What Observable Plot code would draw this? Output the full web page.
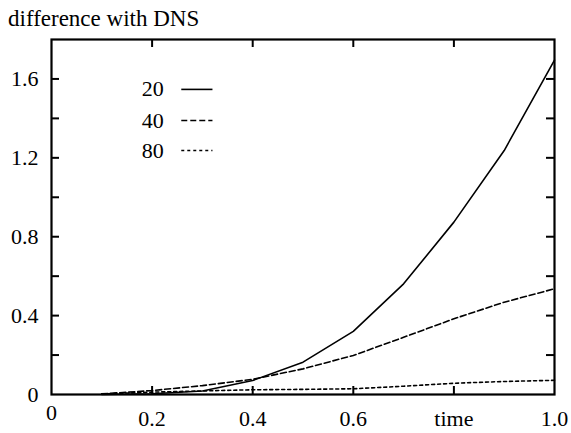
<!DOCTYPE html>
<html>
<head>
<meta charset="utf-8">
<script src="https://cdn.jsdelivr.net/npm/d3@7"></script>
<script src="https://cdn.jsdelivr.net/npm/@observablehq/plot@0.6"></script>
<style>
  html, body { margin: 0; padding: 0; background: #fff; }
  #wrap { position: relative; width: 571px; height: 433px; overflow: hidden; font-family: "Liberation Serif", "Times New Roman", Times, "DejaVu Serif", serif; }
  #title { position: absolute; left: 8px; top: 7px; font-size: 23px; line-height: 23px; color: #000; white-space: nowrap; }
  #chart { position: absolute; left: 0; top: 30px; }
  #chart text { font-family: "Liberation Serif", "Times New Roman", Times, "DejaVu Serif", serif; }
</style>
</head>
<body>
<div id="wrap">
  <div id="title">difference with DNS</div>
  <div id="chart"></div>
</div>
<script>
// ---- data ----
const times = [0.1, 0.2, 0.3, 0.4, 0.5, 0.6, 0.7, 0.8, 0.9, 1.0];
const series20 = [0.0, 0.004, 0.018, 0.071, 0.164, 0.32, 0.561, 0.874, 1.237, 1.695];
const series40 = [0.003, 0.02, 0.045, 0.077, 0.13, 0.198, 0.29, 0.384, 0.468, 0.536];
const series80 = [0.003, 0.012, 0.018, 0.024, 0.026, 0.029, 0.042, 0.057, 0.066, 0.072];
const seriesNames = ["20", "40", "80"];
const xTickLabels = [0, 0.2, 0.4, 0.6, 0.8, 1.0];
const yTickLabels = [0, 0.4, 0.8, 1.2, 1.6];
const xMinorTicks = [0.2, 0.4, 0.6, 0.8];
const yMinorTicks = [0.2, 0.4, 0.6, 0.8, 1.0, 1.2, 1.4, 1.6];

// ---- layout / style ----
const W = 571, H = 403;
const mTop = 9, mBottom = 39, mLeft = 51, mRight = 17;
const innerW = W - mLeft - mRight, innerH = H - mTop - mBottom;
const tickLen = 8;
const dashes = ["none", "6,3", "3,3"];
const seriesValues = [series20, series40, series80];

const rows = [];
seriesNames.forEach((name, k) => {
  times.forEach((t, i) => rows.push({series: name, time: t, value: seriesValues[k][i]}));
});

// legend layout (in chart units)
const legendTextX = 0.223, legendLineX1 = 0.258, legendLineX2 = 0.32;
const legendYs = [1.547, 1.389, 1.237];
const legend = seriesNames.map((name, k) => ({name, y: legendYs[k], dash: dashes[k]}));

const font = "Liberation Serif, Times New Roman, serif";
const fs = 22;

const marks = [];
seriesNames.forEach((name, k) => {
  marks.push(Plot.line(rows.filter(d => d.series === name), {
    x: "time", y: "value", stroke: "#000", strokeWidth: 1.6,
    strokeDasharray: dashes[k] === "none" ? null : dashes[k], curve: "linear"
  }));
});
// inward ticks
marks.push(Plot.tickX(xMinorTicks, {x: d => d, stroke: "#000", strokeWidth: 2, insetTop: innerH - tickLen}));
marks.push(Plot.tickX(xMinorTicks, {x: d => d, stroke: "#000", strokeWidth: 2, insetBottom: innerH - tickLen}));
marks.push(Plot.tickY(yMinorTicks, {y: d => d, stroke: "#000", strokeWidth: 2, insetRight: innerW - tickLen}));
marks.push(Plot.tickY(yMinorTicks, {y: d => d, stroke: "#000", strokeWidth: 2, insetLeft: innerW - tickLen}));
// axes labels
marks.push(Plot.axisX(xTickLabels.filter(d => d !== 0), {
  anchor: "bottom", tickSize: 0, tickPadding: 16, fontSize: fs, fontFamily: font,
  tickFormat: d => d === 0.8 ? "time" : d.toFixed(1), label: null
}));
marks.push(Plot.axisX([0], {
  anchor: "bottom", tickSize: 0, tickPadding: 10, fontSize: fs, fontFamily: font,
  tickFormat: d => "0", label: null, dx: 0
}));
marks.push(Plot.axisY(yTickLabels, {
  anchor: "left", tickSize: 0, tickPadding: 13, fontSize: fs, fontFamily: font,
  tickFormat: d => d === 0 ? "0" : d.toFixed(1), label: null
}));
// frame
marks.push(Plot.frame({stroke: "#000", strokeWidth: 2.2}));
// legend
marks.push(Plot.text(legend, {x: () => legendTextX, y: "y", text: "name", textAnchor: "end",
  fontSize: fs, fontFamily: font, fill: "#000"}));
legend.forEach(l => {
  marks.push(Plot.link([l], {x1: () => legendLineX1, x2: () => legendLineX2, y1: "y", y2: "y",
    stroke: "#000", strokeWidth: 1.6, strokeDasharray: l.dash === "none" ? null : l.dash}));
});

const chart = Plot.plot({
  width: W, height: H,
  marginTop: mTop, marginBottom: mBottom, marginLeft: mLeft, marginRight: mRight,
  style: {fontFamily: font, fontSize: fs + "px", color: "#000", background: "#fff", overflow: "visible"},
  x: {domain: [0, 1], axis: null},
  y: {domain: [0, 1.8], axis: null},
  marks
});
document.getElementById("chart").appendChild(chart);
</script>
</body>
</html>
